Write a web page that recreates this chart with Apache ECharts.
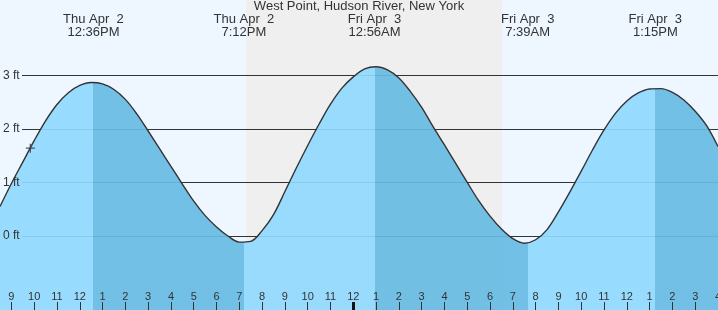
<!DOCTYPE html>
<html>
<head>
<meta charset="utf-8">
<script src="https://cdn.jsdelivr.net/npm/echarts@6/dist/echarts.min.js"></script>
<style>html,body{margin:0;padding:0;background:#EEF6FF;overflow:hidden;}#c{width:718px;height:310px;}</style>
</head>
<body>
<div id="c"></div>
<script>
// ---- data (hours counted from Thu Apr 2, 00:00) ----
const chartTitle = 'West Point, Hudson River, New York';
const tideTimes = [8.5, 9, 9.5, 10, 10.5, 11, 11.5, 12, 12.5, 13, 13.5, 14, 14.5, 15, 15.5, 16, 16.5, 17, 17.5, 18, 18.5, 19,
  19.5, 20, 20.5, 21, 21.5, 22, 22.5, 23, 23.5, 24, 24.5, 25, 25.5, 26, 26.5, 27, 27.5, 28, 28.5, 29, 29.5, 30, 30.5, 31, 31.5,
  32, 32.5, 33, 33.5, 34, 34.5, 35, 35.5, 36, 36.5, 37, 37.5, 38, 38.5, 39, 39.5, 40];
const tideHeights = [0.55, 0.98, 1.38, 1.78, 2.15, 2.455, 2.675, 2.81, 2.865, 2.84, 2.735, 2.55, 2.28, 1.96, 1.63, 1.30, 0.97, 0.65, 0.38, 0.17, 0.0, -0.115,
  -0.10, 0.10, 0.40, 0.83, 1.27, 1.69, 2.09, 2.46, 2.76, 2.97, 3.12, 3.16, 3.10, 2.95, 2.70, 2.40, 2.04, 1.70, 1.35, 1.00, 0.66, 0.37, 0.13, -0.05, -0.135,
  -0.07, 0.12, 0.45, 0.82, 1.21, 1.61, 1.98, 2.29, 2.52, 2.67, 2.745, 2.75, 2.68, 2.54, 2.33, 2.06, 1.67];
const extremeTimes = [12.6, 19.2, 24.9333, 31.65, 37.25];
const extremeKinds = ['H', 'L', 'H', 'L', 'H'];
const extremeLabels = ['Thu Apr  2\n12:36PM', 'Thu Apr  2\n7:12PM', 'Fri Apr  3\n12:56AM', 'Fri Apr  3\n7:39AM', 'Fri Apr  3\n1:15PM'];
const hourTicks = [9, 10, 11, 12, 13, 14, 15, 16, 17, 18, 19, 20, 21, 22, 23, 24, 25, 26, 27, 28, 29, 30, 31, 32, 33, 34, 35, 36, 37, 38, 39, 40];
const midnightTicks = [24];
const heightTicks = [0, 1, 2, 3];
const nightStart = 19.3, nightEnd = 30.53;
const nowTime = 9.83, nowHeight = 1.64;

// ---- view settings ----
const xMin = 8.5, xMax = 40;
const yMin = -1.381, yMax = 4.405;
const lightFill = '#90D9FE', darkFill = '#67BBE3';
const font = "'Liberation Sans', Arial, sans-serif";

const tideData = tideTimes.map((t, i) => [t, tideHeights[i]]);
const pieces = [];
let prev = 0;
extremeTimes.forEach((t, i) => {
  pieces.push({ gte: prev, lt: t, color: extremeKinds[i] === 'H' ? lightFill : darkFill });
  prev = t;
});
pieces.push({ gte: prev, lte: 48, color: extremeKinds[extremeKinds.length - 1] === 'H' ? darkFill : lightFill });

function hourLabel(v) {
  const h = Math.round(v) % 24;
  return String(h % 12 === 0 ? 12 : h % 12);
}
function extremeLabel(v) {
  for (let i = 0; i < extremeTimes.length; i++) {
    if (Math.abs(extremeTimes[i] - v) < 1e-6) return extremeLabels[i];
  }
  return '';
}
const noLine = { show: false, onZero: false };

const chart = echarts.init(document.getElementById('c'), null, { renderer: 'canvas' });
chart.setOption({
  animation: false,
  backgroundColor: '#EEF6FF',
  textStyle: { fontFamily: font },
  title: {
    text: chartTitle, left: 'center', top: 0, padding: 0,
    textStyle: { fontSize: 13, fontWeight: 'normal', color: '#333', fontFamily: font }
  },
  grid: [
    { left: 0, right: 0, top: 0, bottom: 0, containLabel: false, outerBoundsMode: 'none' },
    { left: 22, right: 0, top: 0, bottom: 0, containLabel: false, outerBoundsMode: 'none' }
  ],
  xAxis: [
    { gridIndex: 0, type: 'value', min: xMin, max: xMax, position: 'bottom', z: 5,
      axisLine: noLine, splitLine: { show: false },
      axisTick: { show: true, inside: true, length: 8, customValues: hourTicks, lineStyle: { color: '#333', width: 1 } },
      axisLabel: { show: true, inside: true, margin: 8, customValues: hourTicks, formatter: hourLabel,
        fontSize: 11, color: '#333', fontFamily: font } },
    { gridIndex: 0, type: 'value', min: xMin, max: xMax, position: 'bottom', z: 5,
      axisLine: noLine, splitLine: { show: false }, axisLabel: { show: false },
      axisTick: { show: true, inside: true, length: 8, customValues: midnightTicks, lineStyle: { color: '#111', width: 3 } } },
    { gridIndex: 0, type: 'value', min: xMin, max: xMax, position: 'top', z: 5,
      axisLine: noLine, splitLine: { show: false }, axisTick: { show: false },
      axisLabel: { show: true, inside: true, margin: 13, customValues: extremeTimes, formatter: extremeLabel,
        fontSize: 13, lineHeight: 13, color: '#333', fontFamily: font } },
    { gridIndex: 1, type: 'value', min: xMin, max: xMax, show: false, axisLine: noLine }
  ],
  yAxis: [
    { gridIndex: 0, type: 'value', min: yMin, max: yMax, z: 5,
      axisLine: noLine, splitLine: { show: false },
      axisTick: { show: false, customValues: heightTicks },
      axisLabel: { show: true, inside: true, margin: 3, customValues: heightTicks,
        formatter: v => v + ' ft', fontSize: 12, color: '#333', fontFamily: font } },
    { gridIndex: 1, type: 'value', min: yMin, max: yMax, z: 2,
      axisLine: noLine, axisLabel: { show: false },
      axisTick: { show: false, customValues: heightTicks },
      splitLine: { show: true, lineStyle: { color: '#333', width: 1 } } }
  ],
  visualMap: {
    show: false, type: 'piecewise', dimension: 0, seriesIndex: 1, pieces: pieces
  },
  series: [
    { type: 'line', xAxisIndex: 0, yAxisIndex: 0, z: 1, silent: true, data: tideData,
      showSymbol: false, symbol: 'none', lineStyle: { width: 0, opacity: 0 },
      markArea: { silent: true, itemStyle: { color: '#EFEFEF' }, data: [[{ xAxis: nightStart }, { xAxis: nightEnd }]] } },
    { type: 'line', xAxisIndex: 0, yAxisIndex: 0, z: 3, silent: true, data: tideData,
      smooth: 0.34, showSymbol: false, symbol: 'none',
      lineStyle: { color: '#333', width: 1.4 },
      areaStyle: { opacity: 0.92, origin: 'start' } },
    { type: 'scatter', xAxisIndex: 0, yAxisIndex: 0, z: 4, silent: true,
      data: [[nowTime, nowHeight]],
      symbol: 'path://M0,4.3h10v1.4h-10z M4.3,0h1.4v10h-1.4z', symbolSize: 9,
      itemStyle: { color: '#333' } }
  ]
});
</script>
</body>
</html>
